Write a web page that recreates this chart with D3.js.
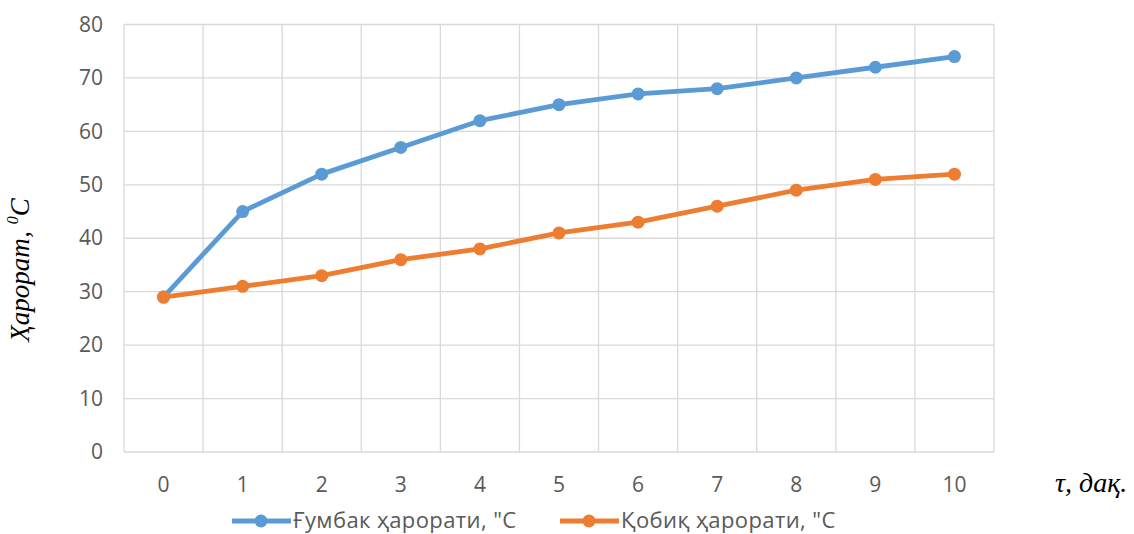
<!DOCTYPE html>
<html><head><meta charset="utf-8">
<script src="https://cdn.jsdelivr.net/npm/d3@7"></script>
<style>body{margin:0;background:#fff}</style>
</head><body>
<svg id="c" width="1134" height="534"></svg>
<script>
const categories = ["0","1","2","3","4","5","6","7","8","9","10"];
const seriesNames = ["Ғумбак ҳарорати, \"С", "Қобиқ ҳарорати, \"С"];
const domeTemp = [29,45,52,57,62,65,67,68,70,72,74];
const shellTemp = [29,31,33,36,38,41,43,46,49,51,52];
const yTicks = [0,10,20,30,40,50,60,70,80];
const colors = ["#5B9BD5","#ED7D31"];

const svg = d3.select("#c");
const L=124, R=994, T=24.5, B=452;
const x = d3.scaleBand().domain(categories).range([L,R]).padding(0);
const y = d3.scaleLinear().domain([0,80]).range([B,T]);
const font = "'Open Sans', 'Noto Sans', sans-serif";
const fs = 21;

// grid
const g = svg.append("g");
g.selectAll("line.h").data(yTicks).enter().append("line")
  .attr("x1",L).attr("x2",R).attr("y1",d=>y(d)).attr("y2",d=>y(d))
  .attr("stroke","#d9d9d9").attr("stroke-width",1.3);
const vb = categories.map(c=>x(c)).concat([R]);
g.selectAll("line.v").data(vb).enter().append("line")
  .attr("x1",d=>d).attr("x2",d=>d).attr("y1",T).attr("y2",B)
  .attr("stroke","#d9d9d9").attr("stroke-width",1.3);

// y axis labels
const ya = svg.append("g").attr("transform",`translate(${L},0)`)
  .call(d3.axisLeft(y).tickValues(yTicks).tickSize(0).tickPadding(21));
ya.select(".domain").remove();
ya.selectAll("text").attr("font-family",font).attr("font-size",fs).attr("fill","#595959");

// x axis labels
const xa = svg.append("g").attr("transform",`translate(0,${B})`)
  .call(d3.axisBottom(x).tickSize(0).tickPadding(25));
xa.select(".domain").remove();
xa.selectAll("text").attr("font-family",font).attr("font-size",fs).attr("fill","#595959");

// series
const line = d3.line().x((d,i)=>x(categories[i])+x.bandwidth()/2).y(d=>y(d));
[domeTemp, shellTemp].forEach((s,k)=>{
  svg.append("path").datum(s).attr("d",line).attr("fill","none")
    .attr("stroke",colors[k]).attr("stroke-width",4.8).attr("stroke-linejoin","round");
  svg.append("g").selectAll("circle").data(s).enter().append("circle")
    .attr("cx",(d,i)=>x(categories[i])+x.bandwidth()/2).attr("cy",d=>y(d))
    .attr("r",6.5).attr("fill",colors[k]);
});

// axis titles
const yt = svg.append("text").attr("transform","translate(29,270) rotate(-90)")
  .attr("text-anchor","middle").attr("font-family","'Liberation Serif', serif")
  .attr("font-style","italic").attr("font-size",27).attr("fill","#000");
yt.append("tspan").text("Ҳарорат, ");
yt.append("tspan").attr("font-size",16).attr("dy",-11).text("0");
yt.append("tspan").attr("dy",11).text("С");

svg.append("text").attr("x",1055).attr("y",492)
  .attr("font-family","'Liberation Serif', serif").attr("font-style","italic")
  .attr("font-size",28).attr("fill","#000").text("τ, дақ.");

// legend
const legX = [232, 560];
seriesNames.forEach((n,k)=>{
  const lg = svg.append("g").attr("transform",`translate(${legX[k]},521)`);
  lg.append("line").attr("x1",0).attr("x2",59).attr("stroke",colors[k]).attr("stroke-width",4.8);
  lg.append("circle").attr("cx",29).attr("r",6.5).attr("fill",colors[k]);
  lg.append("text").attr("x",61).attr("y",6.5).attr("font-family",font)
    .attr("font-size",22).attr("letter-spacing",0.4).attr("fill","#595959").text(n);
});
</script>
</body></html>
